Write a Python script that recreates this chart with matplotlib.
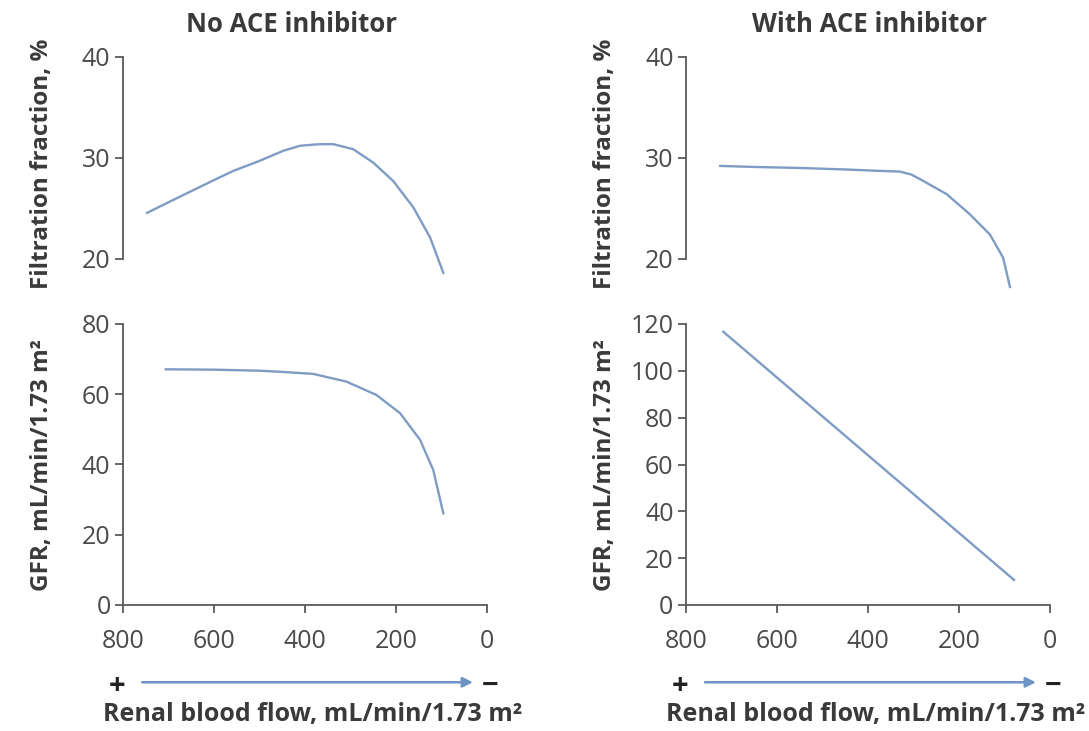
import matplotlib
matplotlib.use("Agg")
import matplotlib.pyplot as plt
from matplotlib.transforms import blended_transform_factory

# ---- data ----
ff_no_x = [747, 700, 650, 600, 558, 500, 448, 411, 370, 338, 294, 250, 206, 162, 125, 96]
ff_no_y = [24.55, 25.6, 26.7, 27.8, 28.7, 29.7, 30.7, 31.2, 31.35, 31.36, 30.86, 29.53, 27.7, 25.1, 22.1, 18.6]

ff_ace_x = [725, 650, 550, 450, 374, 330, 305, 286, 227, 176, 132, 103, 88]
ff_ace_y = [29.2, 29.1, 29.0, 28.85, 28.71, 28.64, 28.35, 27.9, 26.4, 24.4, 22.4, 20.1, 17.2]

gfr_no_x = [706, 600, 500, 455, 382, 309, 243, 191, 147, 118, 96]
gfr_no_y = [67.1, 67.0, 66.7, 66.4, 65.8, 63.6, 59.8, 54.6, 47.0, 38.4, 26.1]

gfr_ace_x = [718, 79]
gfr_ace_y = [116.7, 10.7]

x_ticks = [800, 600, 400, 200, 0]
ff_ticks = [20, 30, 40]
gfr_no_ticks = [0, 20, 40, 60, 80]
gfr_ace_ticks = [0, 20, 40, 60, 80, 100, 120]

titles = ["No ACE inhibitor", "With ACE inhibitor"]
ff_label = "Filtration fraction, %"
gfr_label = "GFR, mL/min/1.73 m²"
x_label = "Renal blood flow, mL/min/1.73 m²"

# ---- style ----
plt.rcParams['font.family'] = ['Open Sans', 'DejaVu Sans']
LINE = '#7f9cc4'
AX = '#5a5a5a'
TXT = '#3a3a3a'
W, H = 1089, 731
fig = plt.figure(figsize=(W / 100, H / 100), dpi=100)


def fx(px):
    return px / W


def fy(py):
    return 1 - py / H


def make_ax(left_px, top_px, bottom_px):
    ax = fig.add_axes([fx(left_px), fy(bottom_px), 364 / W, (bottom_px - top_px) / H])
    ax.set_xlim(800, 0)
    for s in ['top', 'right']:
        ax.spines[s].set_visible(False)
    for s in ['left', 'bottom']:
        ax.spines[s].set_color(AX)
        ax.spines[s].set_linewidth(1.3)
    ax.tick_params(direction='out', length=6, width=1.3, color=AX,
                   labelcolor='#4a4a4a', labelsize=18, pad=3)
    ax.patch.set_alpha(0)
    return ax


lefts = [123, 686]
ff_data = [(ff_no_x, ff_no_y), (ff_ace_x, ff_ace_y)]
gfr_data = [(gfr_no_x, gfr_no_y, gfr_no_ticks), (gfr_ace_x, gfr_ace_y, gfr_ace_ticks)]

for i, left in enumerate(lefts):
    # top panel: filtration fraction
    at = make_ax(left, 57, 289)
    at.set_ylim(17, 40)
    at.spines['bottom'].set_visible(False)
    at.spines['left'].set_bounds(20, 40)
    at.set_xticks([])
    at.set_yticks(ff_ticks)
    at.plot(ff_data[i][0], ff_data[i][1], color=LINE, lw=1.7, clip_on=False)

    # bottom panel: GFR
    ab = make_ax(left, 324, 605)
    xs, ys, yt = gfr_data[i]
    ab.set_ylim(0, yt[-1])
    ab.set_yticks(yt)
    ab.set_xticks(x_ticks)
    ab.tick_params(axis='x', pad=11)
    ab.plot(xs, ys, color=LINE, lw=1.7, clip_on=False)

    # arrow with + and -
    tr = blended_transform_factory(ab.transData, ab.transAxes)
    ab.annotate('', xy=(31, -0.275), xytext=(758, -0.275), xycoords=tr, textcoords=tr,
                arrowprops=dict(arrowstyle='-|>', color='#6f93c4', lw=1.8,
                                mutation_scale=15, shrinkA=0, shrinkB=0),
                annotation_clip=False)
    ab.text(812, -0.29, '+', transform=tr, ha='center', va='center',
            fontsize=21, fontweight='bold', color='#222222', clip_on=False)
    ab.text(-6, -0.29, '−', transform=tr, ha='center', va='center',
            fontsize=21, fontweight='bold', color='#222222', clip_on=False)

    # labels
    fig.text(fx(left + 190), fy(715), x_label, ha='center', va='center',
             fontsize=18, fontweight='bold', color=TXT)
    ylx = 42 if i == 0 else 605
    fig.text(fx(ylx), fy(164), ff_label, rotation=90, ha='center', va='center',
             fontsize=17.5, fontweight='bold', color=TXT)
    fig.text(fx(ylx), fy(465), gfr_label, rotation=90, ha='center', va='center',
             fontsize=17.5, fontweight='bold', color=TXT)

fig.text(fx(292), fy(25), titles[0], ha='center', va='center',
         fontsize=18.5, fontweight='bold', color=TXT)
fig.text(fx(870), fy(25), titles[1], ha='center', va='center',
         fontsize=18.5, fontweight='bold', color=TXT)

fig.savefig('out.png', dpi=100, facecolor='white')
